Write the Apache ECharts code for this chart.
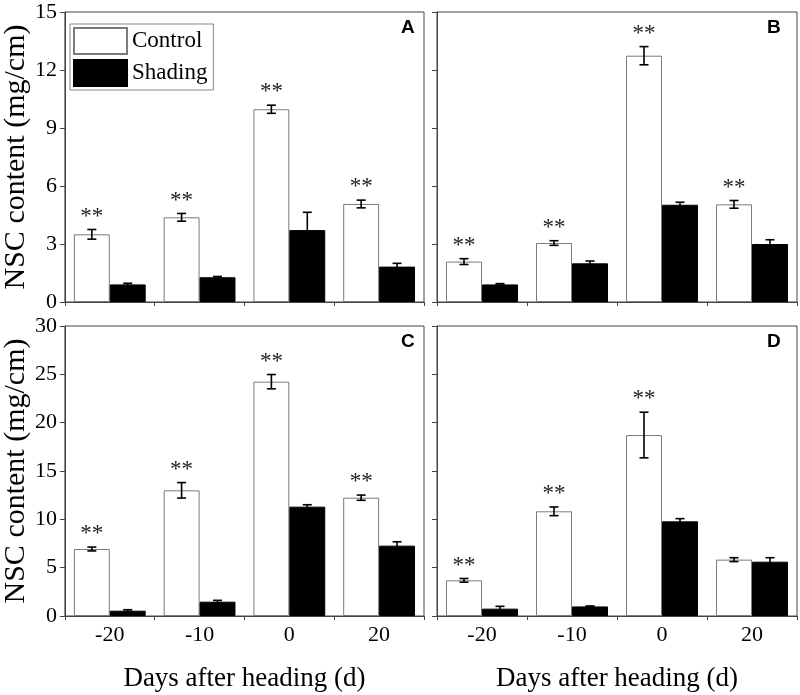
<!DOCTYPE html>
<html>
<head>
<meta charset="utf-8">
<script src="https://cdn.jsdelivr.net/npm/echarts@6/dist/echarts.min.js"></script>
<style>html,body{margin:0;padding:0;background:#fff}#c{width:800px;height:695px}</style>
</head>
<body>
<div id="c"></div>
<script>
// ---- data ----
const categories = ['-20', '-10', '0', '20'];
const panelLabels = ['A', 'B', 'C', 'D'];

const controlA = [3.50, 4.38, 9.97, 5.07];
const controlErrA = [0.25, 0.20, 0.21, 0.20];
const shadingA = [0.91, 1.28, 3.72, 1.83];
const shadingErrA = [0.06, 0.04, 0.92, 0.17];
const sigA = [1, 1, 1, 1];

const controlB = [2.09, 3.05, 12.74, 5.05];
const controlErrB = [0.15, 0.12, 0.47, 0.20];
const shadingB = [0.91, 2.00, 5.03, 3.00];
const shadingErrB = [0.04, 0.12, 0.13, 0.22];
const sigB = [1, 1, 1, 1];

const controlC = [6.93, 13.00, 24.24, 12.24];
const controlErrC = [0.20, 0.80, 0.74, 0.27];
const shadingC = [0.55, 1.48, 11.31, 7.28];
const shadingErrC = [0.10, 0.14, 0.20, 0.40];
const sigC = [1, 1, 1, 1];

const controlD = [3.69, 10.83, 18.72, 5.83];
const controlErrD = [0.19, 0.45, 2.36, 0.20];
const shadingD = [0.76, 0.99, 9.79, 5.62];
const shadingErrD = [0.24, 0.05, 0.28, 0.41];
const sigD = [1, 1, 1, 0];

const yMaxTop = 15, yIntTop = 3;
const yMaxBottom = 30, yIntBottom = 5;

// ---- build ----
const panels = [
  {c: controlA, ce: controlErrA, s: shadingA, se: shadingErrA, sig: sigA, max: yMaxTop, int: yIntTop},
  {c: controlB, ce: controlErrB, s: shadingB, se: shadingErrB, sig: sigB, max: yMaxTop, int: yIntTop},
  {c: controlC, ce: controlErrC, s: shadingC, se: shadingErrC, sig: sigC, max: yMaxBottom, int: yIntBottom},
  {c: controlD, ce: controlErrD, s: shadingD, se: shadingErrD, sig: sigD, max: yMaxBottom, int: yIntBottom}
];

const serif = 'Liberation Serif';
const axisColor = '#444';
const gridPos = [
  {left: 64, top: 12}, {left: 437, top: 12},
  {left: 64, top: 326}, {left: 437, top: 326}
];

const grids = [], xAxes = [], yAxes = [], series = [], titles = [];
const titlePos = [{left: 401, top: 18}, {left: 767, top: 18}, {left: 401, top: 332}, {left: 767, top: 332}];

panels.forEach((p, i) => {
  grids.push({left: gridPos[i].left, top: gridPos[i].top, width: 360, height: 290,
    show: true, borderColor: axisColor, borderWidth: 1, backgroundColor: 'transparent'});
  const bottomRow = i >= 2;
  xAxes.push({
    type: 'category', gridIndex: i, data: categories, position: 'bottom',
    axisLine: {lineStyle: {color: axisColor, width: 1}},
    axisTick: {alignWithLabel: true, length: 6, lineStyle: {color: axisColor}},
    axisLabel: {show: bottomRow, fontFamily: serif, fontSize: 22, color: '#000', margin: 8},
    name: bottomRow ? 'Days after heading (d)' : '',
    nameLocation: 'middle', nameGap: 49,
    nameTextStyle: {fontFamily: serif, fontSize: 27, color: '#000'}
  });
  xAxes.push({
    type: 'category', gridIndex: i, data: categories, position: 'bottom',
    axisLine: {show: false},
    axisTick: {show: true, length: 4, lineStyle: {color: axisColor}},
    axisLabel: {show: false}
  });
  const leftCol = i % 2 === 0;
  yAxes.push({
    type: 'value', gridIndex: i, min: 0, max: p.max, interval: p.int,
    splitLine: {show: false},
    axisLine: {show: true, lineStyle: {color: axisColor, width: 1}},
    axisTick: {show: true, length: 5, lineStyle: {color: axisColor}},
    axisLabel: {show: leftCol, fontFamily: serif, fontSize: 22, color: '#000', margin: 8},
    name: leftCol ? 'NSC content (mg/cm)' : '',
    nameLocation: 'middle', nameGap: 20,
    nameTextStyle: {fontFamily: serif, fontSize: 30, color: '#000'}
  });
  titles.push({text: panelLabels[i], left: titlePos[i].left, top: titlePos[i].top, padding: 0,
    textStyle: {fontFamily: 'Liberation Sans', fontWeight: 'bold', fontSize: 19, color: '#000'}});

  series.push({
    name: 'Control', type: 'bar', xAxisIndex: i * 2, yAxisIndex: i,
    data: p.c, barGap: '0%', barCategoryGap: '20%',
    itemStyle: {color: '#fff', borderColor: '#7a7a7a', borderWidth: 1}
  });
  series.push({
    name: 'Shading', type: 'bar', xAxisIndex: i * 2, yAxisIndex: i,
    data: p.s, barGap: '0%', barCategoryGap: '20%',
    itemStyle: {color: '#000', borderColor: '#000', borderWidth: 1}
  });
  const mkErr = (vals, errs, offset, sig) => ({
    type: 'custom', xAxisIndex: i * 2, yAxisIndex: i, z: 5,
    data: vals.map((v, k) => [k, v, errs[k], sig ? sig[k] : 0]),
    encode: {x: 0, y: 1},
    renderItem: (params, api) => {
      const k = api.value(0), v = api.value(1), e = api.value(2), sg = api.value(3);
      const band = api.size([1, 0])[0];
      const x = api.coord([k, v])[0] + offset * band;
      const yT = api.coord([k, v + e])[1];
      const yB = api.coord([k, v - e])[1];
      const cap = 4.5;
      const st = {stroke: '#000', lineWidth: 1.6};
      const children = [
        {type: 'line', shape: {x1: x, y1: yT, x2: x, y2: yB}, style: st},
        {type: 'line', shape: {x1: x - cap, y1: yT, x2: x + cap, y2: yT}, style: st},
        {type: 'line', shape: {x1: x - cap, y1: yB, x2: x + cap, y2: yB}, style: st}
      ];
      if (sg) {
        children.push({type: 'text', style: {text: '**', x: x, y: yT - 13,
          fill: '#222', font: '23px "Liberation Serif"', textAlign: 'center', textVerticalAlign: 'middle'}});
      }
      return {type: 'group', children};
    }
  });
  series.push(mkErr(p.c, p.ce, -0.2, p.sig));
  series.push(mkErr(p.s, p.se, 0.2, null));
});

const chart = echarts.init(document.getElementById('c'));
chart.setOption({
  animation: false,
  backgroundColor: '#fff',
  title: titles,
  legend: {
    data: ['Control', 'Shading'], orient: 'vertical', left: 70, top: 24,
    itemWidth: 53, itemHeight: 26, itemGap: 4, padding: [3, 6, 3, 3],
    borderColor: '#888', borderWidth: 1, icon: 'rect',
    textStyle: {fontFamily: serif, fontSize: 23, color: '#000'}
  },
  grid: grids, xAxis: xAxes, yAxis: yAxes, series
});
</script>
</body>
</html>
